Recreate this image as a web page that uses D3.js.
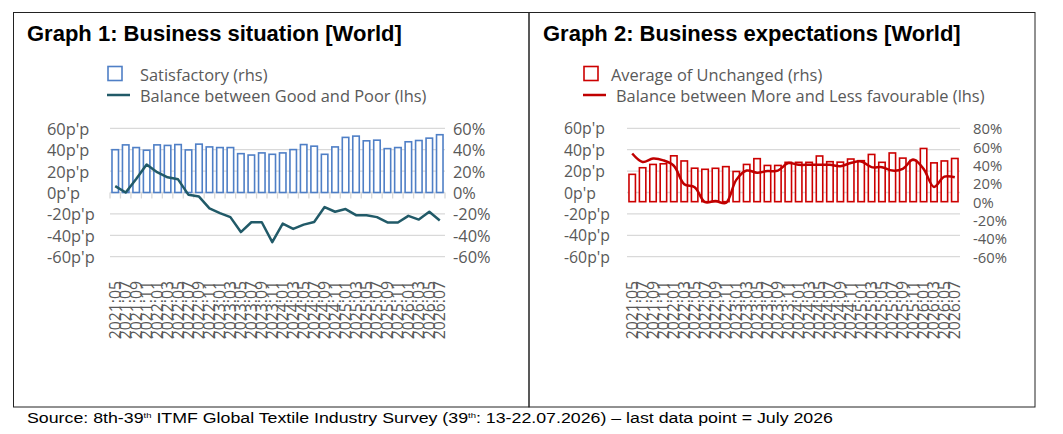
<!DOCTYPE html>
<html><head><meta charset="utf-8">
<script src="https://cdn.jsdelivr.net/npm/d3@7/dist/d3.min.js"></script>
<style>
html,body{margin:0;padding:0;background:#fff;}
svg{display:block;}
</style></head>
<body>
<svg id="c" width="1063" height="434"></svg>
<script>
// ---------- DATA ----------
const categories = ["2021:05","2021:07","2021:09","2021:11","2022:01","2022:03","2022:05","2022:07","2022:09","2022:11",
  "2023:01","2023:03","2023:05","2023:07","2023:09","2023:11","2024:01","2024:03","2024:05","2024:07","2024:09","2024:11",
  "2025:01","2025:03","2025:05","2025:07","2025:09","2025:11","2026:01","2026:03","2026:05","2026:07"];
// Graph 1
const satisfactory = [40,44.5,42,39.5,44.5,44,44.8,39.8,45.2,42.6,42,42,36.3,35,37,35.7,37,40.1,44.8,43.3,35.7,42.6,51.5,52.7,48.3,48.9,41,42,47.4,48.6,50.8,54];
const balanceGoodPoor = [6,0,12.6,26.2,19,14.2,12.3,-2.2,-3.8,-14.8,-19.3,-23,-37,-27.8,-27.8,-46.4,-29,-34,-30,-27.5,-13.6,-18,-15.5,-21.2,-21.2,-23,-28,-28,-21.8,-25.3,-18,-26.2];
// Graph 2
const unchanged = [29.8,37,40.6,41.3,50,44.4,36.5,35.3,36.4,38.2,32.9,40.6,46.9,39.5,39.5,42.9,42.9,42.9,49.8,43.6,43.1,46.5,44.7,51.5,42.9,53.1,47.5,45,58,42.3,44.4,47.1];
const balanceMoreLess = [36.5,28.6,31.7,30,25,7.7,5,-9,-8,-9.8,11.8,20.5,18.5,20,20.4,27.5,25.9,25.9,25.9,25.9,24.5,27.6,29,23.7,23.7,20.5,22.1,30.8,22.1,5.2,14.8,14.2];
// Axis ticks
const lhsTicks = [60,40,20,0,-20,-40,-60];
const rhsTicks1 = [60,40,20,0,-20,-40,-60];
const rhsTicks2 = [80,60,40,20,0,-20,-40,-60];

// ---------- STYLE / LAYOUT ----------
const axisFont = "'Open Sans','Noto Sans',sans-serif";
const grey = "#595959";
const svg = d3.select("#c");
svg.append("rect").attr("width",1063).attr("height",434).attr("fill","#fff");

// frames
svg.append("rect").attr("x",13.5).attr("y",12.5).attr("width",515.5).attr("height",394.5)
  .attr("fill","none").attr("stroke","#222").attr("stroke-width",1);
svg.append("rect").attr("x",529).attr("y",12.5).attr("width",506).attr("height",394.5)
  .attr("fill","none").attr("stroke","#222").attr("stroke-width",1);

// source
const src = svg.append("text").attr("transform","translate(27,423) scale(1.185,1)")
  .attr("font-family","'Liberation Sans',Arial,sans-serif").attr("font-size",15).attr("fill","#000");
src.append("tspan").text("Source: 8th-39");
src.append("tspan").attr("font-size",8).attr("dy",-5).text("th");
src.append("tspan").attr("dy",5).text(" ITMF Global Textile Industry Survey (39");
src.append("tspan").attr("font-size",8).attr("dy",-5).text("th");
src.append("tspan").attr("dy",5).text(": 13-22.07.2026) \u2013 last data point = July 2026");

function drawChart(cfg){
  const g = svg.append("g");
  g.append("text").attr("x",cfg.titleX).attr("y",41)
    .attr("font-family","'Liberation Sans',Arial,sans-serif").attr("font-weight","bold")
    .attr("font-size",22).attr("fill","#000").text(cfg.title);

  // legend
  g.append("rect").attr("x",cfg.legX+1).attr("y",66.5).attr("width",14).attr("height",14)
    .attr("fill","#fff").attr("stroke",cfg.barColor).attr("stroke-width",1.6);
  g.append("text").attr("x",cfg.legBarTextX).attr("y",74).attr("dominant-baseline","central")
    .attr("font-family",axisFont).attr("font-size",16.4).attr("fill",grey).text(cfg.barLabel);
  g.append("line").attr("x1",cfg.legX).attr("x2",cfg.legX+cfg.legLineW).attr("y1",95).attr("y2",95)
    .attr("stroke",cfg.lineColor).attr("stroke-width",2.5);
  g.append("text").attr("x",cfg.legLineTextX).attr("y",95).attr("dominant-baseline","central")
    .attr("font-family",axisFont).attr("font-size",16.4).attr("fill",grey).text(cfg.lineLabel);

  const x = d3.scaleBand().domain(categories).range([cfg.x0,cfg.x1]).paddingInner(0.38).paddingOuter(0.19);
  const yL = d3.scaleLinear().domain([-60,60]).range([256.7,128.3]);
  const yR = d3.scaleLinear().domain(cfg.rDomain).range([256.7,128.3]);

  // gridlines
  g.append("g").selectAll("line").data(lhsTicks).join("line")
    .attr("x1",cfg.x0).attr("x2",cfg.x1).attr("y1",d=>yL(d)).attr("y2",d=>yL(d))
    .attr("stroke","#d9d9d9").attr("stroke-width",1.3);

  // x axis ticks
  if(cfg.xTicks){
    const bounds = d3.range(categories.length+1).map(i=>cfg.x0 + i*(cfg.x1-cfg.x0)/categories.length);
    g.append("g").selectAll("line").data(bounds).join("line")
      .attr("x1",d=>d).attr("x2",d=>d).attr("y1",yL(0)).attr("y2",yL(0)+6)
      .attr("stroke","#d9d9d9").attr("stroke-width",1.3);
  }

  // left axis labels
  g.append("g").selectAll("text").data(lhsTicks).join("text")
    .attr("x",cfg.lAxisX).attr("y",d=>yL(d)).attr("dominant-baseline","central")
    .attr("font-family",axisFont).attr("font-size",cfg.lFont).attr("fill",grey)
    .text(d=>d+"p'p");
  // right axis labels
  g.append("g").selectAll("text").data(cfg.rTicks).join("text")
    .attr("x",cfg.rAxisX).attr("y",d=>yR(d)).attr("dominant-baseline","central")
    .attr("font-family",axisFont).attr("font-size",cfg.rFont).attr("fill",grey)
    .text(d=>d+"%");

  // bars (rhs)
  g.append("g").selectAll("rect").data(cfg.bars).join("rect")
    .attr("x",(d,i)=>x(categories[i]))
    .attr("width",x.bandwidth())
    .attr("y",d=>yR(Math.max(d,0)))
    .attr("height",d=>Math.abs(yR(d)-yR(0)))
    .attr("fill","#fff").attr("stroke",cfg.barColor).attr("stroke-width",1.6);

  // line (lhs)
  const line = d3.line().x((d,i)=>x(categories[i])+x.bandwidth()/2).y(d=>yL(d)).curve(cfg.curve);
  g.append("path").datum(cfg.line).attr("d",line).attr("fill","none")
    .attr("stroke",cfg.lineColor).attr("stroke-width",2.5).attr("stroke-linejoin","round");

  // x labels
  g.append("g").selectAll("text").data(categories).join("text")
    .attr("transform",d=>`translate(${x(d)+x.bandwidth()/2+5.5},281) rotate(-90)`)
    .attr("text-anchor","end")
    .attr("font-family",axisFont).attr("font-size",15.8).attr("fill",grey)
    .text(d=>d);
}

drawChart({
  title:"Graph 1: Business situation [World]", titleX:27,
  legX:107, legLineW:23, legBarTextX:140, legLineTextX:140,
  barLabel:"Satisfactory (rhs)", lineLabel:"Balance between Good and Poor (lhs)",
  barColor:"#4f7fc6", lineColor:"#215a68",
  x0:110, x1:445, lAxisX:47, rAxisX:453, lFont:16.4, rFont:16.4,
  rDomain:[-60,60], rTicks:rhsTicks1,
  bars:satisfactory, line:balanceGoodPoor, curve:d3.curveLinear, xTicks:true
});
drawChart({
  title:"Graph 2: Business expectations [World]", titleX:543,
  legX:583, legLineW:23, legBarTextX:611, legLineTextX:616,
  barLabel:"Average of Unchanged (rhs)", lineLabel:"Balance between More and Less favourable (lhs)",
  barColor:"#cc0000", lineColor:"#c00000",
  x0:627, x1:960, lAxisX:564, rAxisX:973, lFont:15.8, rFont:14.8,
  rDomain:[-60,80], rTicks:rhsTicks2,
  bars:unchanged, line:balanceMoreLess, curve:d3.curveCatmullRom.alpha(0.5), xTicks:false
});
</script>
</body></html>
